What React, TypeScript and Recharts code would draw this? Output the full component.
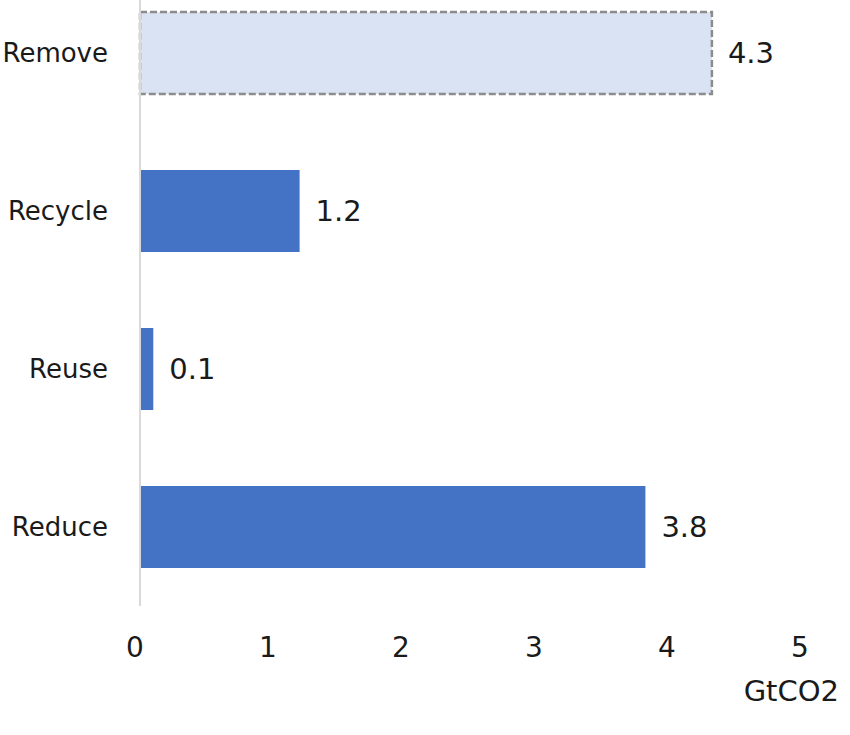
import { BarChart, Bar, XAxis, YAxis, Cell, LabelList, Label } from "recharts";

const CATEGORIES = ["Remove", "Recycle", "Reuse", "Reduce"];
const VALUES = [4.3, 1.2, 0.1, 3.8];
// Remove is an estimate, drawn as an outlined placeholder bar
const ESTIMATED = [true, false, false, false];
const X_TICKS = [0, 1, 2, 3, 4, 5];
const UNIT = "GtCO2";

const FONT = "'DejaVu Sans', 'Noto Sans', sans-serif";
const TEXT = "#1a1a1a";
const BLUE = "#4472c4";

const data = CATEGORIES.map((name, i) => ({
  name,
  value: VALUES[i],
  estimated: ESTIMATED[i],
}));

export default function App() {
  return (
    <div
      style={{
        position: "absolute",
        left: 0,
        top: 0,
        width: 850,
        height: 735,
        overflow: "hidden",
        background: "#fff",
      }}
    >
      <div style={{ position: "absolute", left: 0, top: -26 }}>
        <BarChart
          width={850}
          height={761}
          data={data}
          layout="vertical"
          margin={{ top: 0, right: 45, bottom: 0, left: 0 }}
          barSize={82}
        >
          <XAxis
            type="number"
            domain={[0, 5]}
            ticks={X_TICKS}
            axisLine={false}
            tickLine={false}
            tickSize={0}
            tickMargin={31}
            height={129}
            tick={{ fontSize: 28, fill: TEXT, fontFamily: FONT, dx: -5 }}
          >
            <Label
              content={() => (
                <text
                  x={839}
                  y={727}
                  textAnchor="end"
                  fontSize={29}
                  fontFamily={FONT}
                  fill={TEXT}
                >
                  {UNIT}
                </text>
              )}
            />
          </XAxis>
          <YAxis
            type="category"
            dataKey="name"
            width={140}
            axisLine={{ stroke: "#d9d9d9", strokeWidth: 2 }}
            tickLine={false}
            tickSize={0}
            tickMargin={32}
            tick={{ fontSize: 26, fill: TEXT, fontFamily: FONT }}
          />
          <Bar dataKey="value" isAnimationActive={false}>
            {data.map((d) => (
              <Cell
                key={d.name}
                fill={d.estimated ? "#dae3f3" : BLUE}
                stroke={d.estimated ? "#8c8c8c" : "none"}
                strokeWidth={d.estimated ? 2.5 : 0}
                strokeDasharray={d.estimated ? "7 3" : undefined}
              />
            ))}
            <LabelList
              dataKey="value"
              position="right"
              offset={16}
              fontSize={29}
              fontFamily={FONT}
              fill={TEXT}
            />
          </Bar>
        </BarChart>
      </div>
    </div>
  );
}
